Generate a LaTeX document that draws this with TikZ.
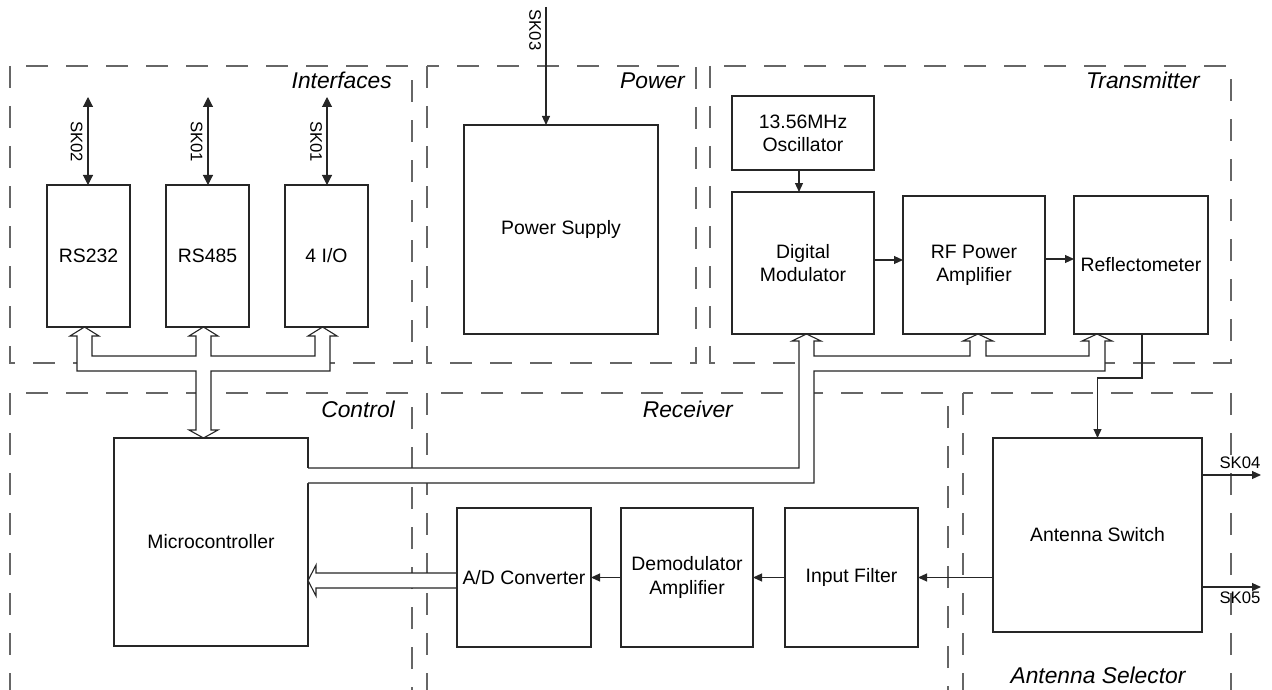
\documentclass[tikz,border=0pt]{standalone}
\usepackage{fontspec}
\setmainfont{Liberation Sans}
\usetikzlibrary{arrows.meta,calc}
\begin{document}
\begin{tikzpicture}[x=1pt,y=-1pt,
  box/.style={draw=black!85,line width=1.1pt,fill=white,inner sep=0pt,outer sep=0pt,
    align=center,font=\fontsize{19.4}{23.3}\selectfont},
  region/.style={draw=black!60,line width=1.2pt,dash pattern=on 22pt off 18pt},
  rlabel/.style={font=\fontsize{22.8}{27}\selectfont\itshape,inner sep=0pt},
  sklabel/.style={font=\fontsize{16.7}{20}\selectfont,inner sep=0pt},
  conn/.style={draw=black!85,line width=1.1pt},
  arr/.style={conn,-{Triangle[length=9pt,width=8pt]}},
  darr/.style={conn,{Triangle[length=10pt,width=10pt]}-{Triangle[length=10pt,width=10pt]}},
  bus/.style={draw=black!85,line width=1.1pt,line join=miter}]
\useasboundingbox (0,0) rectangle (1272,690);
\clip (0,0) rectangle (1272,690);

% regions
\draw[region] (10,66) rectangle (412,363);
\draw[region] (427,66) rectangle (696,363);
\draw[region] (710,66) rectangle (1231,363);
\draw[region] (10,393) rectangle (412,730);
\draw[region] (427,393) rectangle (948,730);
\draw[region] (963,393) rectangle (1231,730);

\node[rlabel,anchor=base east] (lint) at (392,89) {Interfaces};
\node[rlabel,anchor=base east] (lpow) at (685,89) {Power};
\node[rlabel,anchor=base east] (ltx) at (1200,89) {Transmitter};
\node[rlabel,anchor=base east] (lctl) at (395,417) {Control};
\node[rlabel,anchor=base east] (lrx) at (733,417) {Receiver};
\node[rlabel,anchor=base] (lant) at (1098,683) {Antenna Selector};

% microcontroller first (bus covers parts of its edge)
\node[box,minimum width=194pt,minimum height=208pt] (mc) at (211,542) {Microcontroller};

% interface bus
\fill[white] (77,371) -- (77,336) -- (70,336) -- (84.5,327) -- (99,336) -- (92,336) -- (92,356)
  -- (196,356) -- (196,336) -- (189,336) -- (203.5,327) -- (218,336) -- (211,336) -- (211,356)
  -- (315,356) -- (315,336) -- (308,336) -- (322.5,327) -- (337,336) -- (330,336) -- (330,371)
  -- (211,371) -- (211,430) -- (218,430) -- (203.5,438) -- (189,430) -- (196,430) -- (196,371) -- cycle;
\draw[bus] (77,371) -- (77,336) -- (70,336) -- (84.5,327) -- (99,336) -- (92,336) -- (92,356)
  -- (196,356) -- (196,336) -- (189,336) -- (203.5,327) -- (218,336) -- (211,336) -- (211,356)
  -- (315,356) -- (315,336) -- (308,336) -- (322.5,327) -- (337,336) -- (330,336) -- (330,371)
  -- (211,371) -- (211,430) -- (218,430) -- (203.5,438) -- (189,430) -- (196,430) -- (196,371) -- cycle;

% transmitter bus
\fill[white] (306,468) -- (799,468) -- (799,341) -- (792,341) -- (806.5,334) -- (821,341) -- (814,341)
  -- (814,356) -- (970,356) -- (970,341) -- (963,341) -- (978,334) -- (993,341) -- (986,341)
  -- (986,356) -- (1089,356) -- (1089,341) -- (1082,341) -- (1097,334) -- (1112,341) -- (1105,341)
  -- (1105,371) -- (814,371) -- (814,483) -- (306,483) -- cycle;
\draw[bus] (308,468) -- (799,468) -- (799,341) -- (792,341) -- (806.5,334) -- (821,341) -- (814,341)
  -- (814,356) -- (970,356) -- (970,341) -- (963,341) -- (978,334) -- (993,341) -- (986,341)
  -- (986,356) -- (1089,356) -- (1089,341) -- (1082,341) -- (1097,334) -- (1112,341) -- (1105,341)
  -- (1105,371) -- (814,371) -- (814,483) -- (308,483);

% A/D to microcontroller bus
\fill[white] (457,573) -- (316,573) -- (316,565) -- (308,580.5) -- (316,596) -- (316,588) -- (457,588) -- cycle;
\draw[bus] (457,573) -- (316,573) -- (316,565) -- (308,580.5) -- (316,596) -- (316,588) -- (457,588);

% boxes
\node[box,minimum width=83pt,minimum height=142pt] (rs232) at (88.5,256) {RS232};
\node[box,minimum width=83pt,minimum height=142pt] (rs485) at (207.5,256) {RS485};
\node[box,minimum width=83pt,minimum height=142pt] (io) at (326.5,256) {4 I/O};
\node[box,minimum width=194pt,minimum height=209pt] (ps) at (561,229.5) {Power Supply};
\node[box,minimum width=142pt,minimum height=74pt] (osc) at (803,133) {13.56MHz\\Oscillator};
\node[box,minimum width=142pt,minimum height=142pt] (dm) at (803,263) {Digital\\Modulator};
\node[box,minimum width=142pt,minimum height=138pt] (rf) at (974,265) {RF Power\\Amplifier};
\node[box,minimum width=134pt,minimum height=138pt] (refl) at (1141,265) {Reflectometer};
\node[box,minimum width=134pt,minimum height=139pt] (ad) at (524,577.5) {A/D Converter};
\node[box,minimum width=132pt,minimum height=139pt] (demod) at (687,577.5) {Demodulator\\Amplifier};
\node[box,minimum width=133pt,minimum height=139pt] (inf) at (851.5,577.5) {Input Filter};
\node[box,minimum width=209pt,minimum height=194pt] (as) at (1097.5,535) {Antenna Switch};

% external connectors
\coordinate (sk02) at (88,97);
\coordinate (sk01a) at (208,97);
\coordinate (sk01b) at (327,97);
\coordinate (sk03) at (546,7);
\coordinate (sk04) at (1261,475);
\coordinate (sk05) at (1261,587);
\draw[darr] (sk02) -- (sk02 |- rs232.north);
\draw[darr] (sk01a) -- (sk01a |- rs485.north);
\draw[darr] (sk01b) -- (sk01b |- io.north);
\draw[arr] (sk03) -- (sk03 |- ps.north);
\draw[arr] (as.east |- sk04) -- (sk04);
\draw[arr] (as.east |- sk05) -- (sk05);

\node[sklabel,rotate=-90] (t02) at (76.5,141.5) {SK02};
\node[sklabel,rotate=-90] (t01a) at (196.5,141.5) {SK01};
\node[sklabel,rotate=-90] (t01b) at (316,141.5) {SK01};
\node[sklabel,rotate=-90] (t03) at (535,30) {SK03};
\node[sklabel] (t04) at (1240,463) {SK04};
\node[sklabel] (t05) at (1240,598) {SK05};

% internal connectors
\draw[arr] ([xshift=-4pt]osc.south) -- ([xshift=-4pt]dm.north);
\draw[arr] ([yshift=3pt]dm.east) -- ([yshift=3pt]dm.east -| rf.west);
\draw[arr] ([yshift=6pt]rf.east) -- ([yshift=6pt]rf.east -| refl.west);
\draw[arr] ([xshift=1pt]refl.south) |- ($(as.north)+(0,-60)$) -- (as.north);
\draw[arr] (as.west |- inf.east) -- (inf.east);
\draw[arr] (inf.west) -- (demod.east);
\draw[arr] (demod.west) -- (ad.east);
\end{tikzpicture}
\end{document}
